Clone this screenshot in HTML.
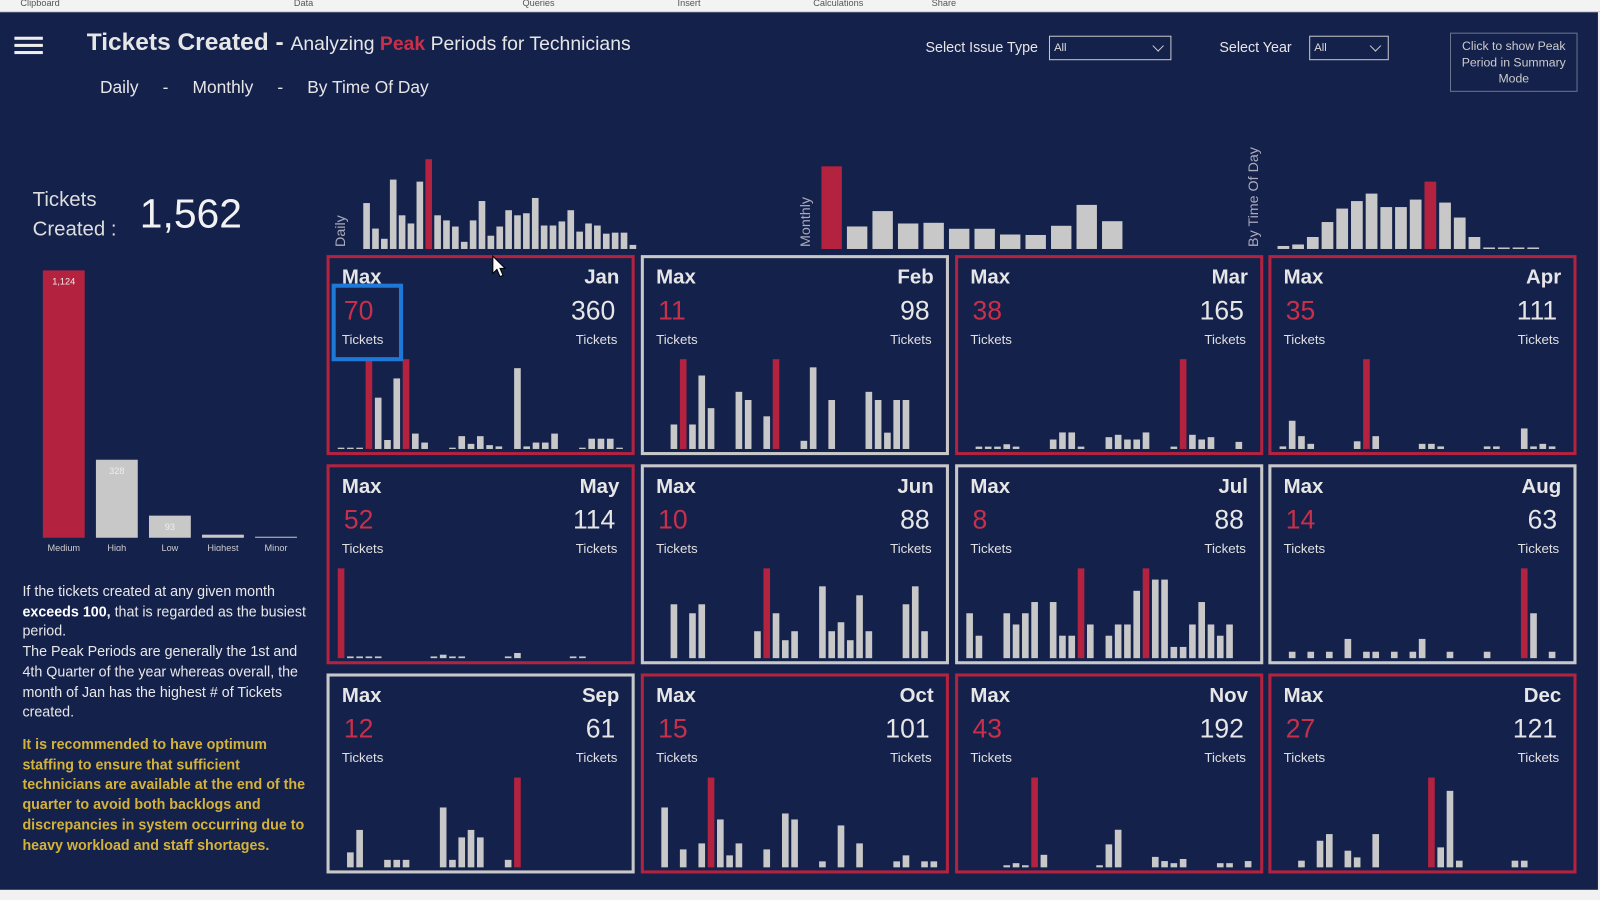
<!DOCTYPE html>
<html><head><meta charset="utf-8">
<style>
*{margin:0;padding:0;box-sizing:border-box}
body{width:1600px;height:900px;overflow:hidden;background:#f1f1f1;font-family:"Liberation Sans",sans-serif;position:relative}
#wrap{position:absolute;left:0;top:0;width:1568px;height:882px;transform:scale(1.0204);transform-origin:0 0}
#ribbon{position:absolute;left:0;top:0;width:1568px;height:12px;background:#f3f3f3;border-bottom:1px solid #ccc;font-size:9px;color:#555}
#ribbon span{position:absolute;top:-2px}
#main{position:absolute;left:0;top:12px;width:1566px;height:860px;background:#14214b}
.t{position:absolute;color:#e6e6e6;white-space:nowrap}
.dd{position:absolute;height:24px;border:1px solid #c8c8c8;color:#ddd;font-size:11px;padding:5px 4px;background:#14214b}
.dd:after{content:"";position:absolute;right:8px;top:5px;width:7px;height:7px;border-right:1px solid #ccc;border-bottom:1px solid #ccc;transform:rotate(45deg)}
.card{position:absolute;border:3px solid #c8c8c8}
.card.red{border-color:#b3233f}
.card .max{position:absolute;left:12px;top:8px;font-weight:bold;font-size:20px;color:#e6e6e6}
.card .mon{position:absolute;right:12px;top:8px;font-weight:bold;font-size:20px;color:#e6e6e6}
.card .mv{position:absolute;left:14px;top:36px;font-size:26px;color:#c8304a}
.card .tv{position:absolute;right:16px;top:36px;font-size:26px;color:#e6e6e6}
.card .l1{position:absolute;left:12px;top:72px;font-size:13px;color:#e0e0e0}
.card .l2{position:absolute;right:14px;top:72px;font-size:13px;color:#e0e0e0}
.card svg{position:absolute;left:0;bottom:0}
#note{position:absolute;left:22px;top:558px;width:282px;font-size:14px;line-height:19.7px;color:#e8e8e8}
#rec{position:absolute;left:22px;top:708px;width:282px;font-size:14px;line-height:19.7px;color:#d4b23a;font-weight:bold}
</style></head><body>
<div id="wrap">
<div id="ribbon"><span style="left:20px">Clipboard</span><span style="left:288px">Data</span><span style="left:512px">Queries</span><span style="left:664px">Insert</span><span style="left:797px">Calculations</span><span style="left:913px">Share</span></div>
<div id="main">
<svg style="position:absolute;left:14px;top:22px" width="30" height="22"><rect y="2" width="28" height="3" fill="#eee"/><rect y="9" width="28" height="3" fill="#eee"/><rect y="16" width="28" height="3" fill="#eee"/></svg>
<div class="t" style="left:85px;top:16px;font-size:24px"><b>Tickets Created</b> <b>-</b> <span style="font-size:19px">Analyzing <b style="color:#c8304a">Peak</b> Periods for Technicians</span></div>
<div class="t" style="left:98px;top:64px;font-size:17px">Daily &nbsp;&nbsp;&nbsp; - &nbsp;&nbsp;&nbsp; Monthly &nbsp;&nbsp;&nbsp; - &nbsp;&nbsp;&nbsp; By Time Of Day</div>
<div class="t" style="left:907px;top:26px;font-size:14px">Select Issue Type</div>
<div class="dd" style="left:1028px;top:23px;width:120px">All</div>
<div class="t" style="left:1195px;top:26px;font-size:14px">Select Year</div>
<div class="dd" style="left:1283px;top:23px;width:78px">All</div>
<div style="position:absolute;left:1421px;top:20px;width:125px;height:58px;border:1px solid #6a7390;color:#ccc;font-size:12px;text-align:center;line-height:16px;padding-top:4px">Click to show Peak Period in Summary Mode</div>
<div class="t" style="left:32px;top:170px;font-size:20px;line-height:29px;color:#ddd">Tickets<br>Created :</div>
<div class="t" style="left:137px;top:176px;font-size:40px;color:#f2f2f2">1,562</div>
<svg id="prio" style="position:absolute;left:30px;top:228px" width="280" height="300"></svg>
<svg id="top" style="position:absolute;left:310px;top:108px" width="1240" height="125"></svg>
<div id="cards"></div>
<div id="note">If the tickets created at any given month <b style="color:#fff">exceeds 100,</b> that is regarded as the busiest period.<br>The Peak Periods are generally the 1st and 4th Quarter of the year whereas overall, the month of Jan has the highest # of Tickets created.</div>
<div id="rec">It is recommended to have optimum staffing to ensure that sufficient technicians are available at the end of the quarter to avoid both backlogs and discrepancies in system occurring due to heavy workload and staff shortages.</div>
<div style="position:absolute;left:325px;top:266px;width:70px;height:76px;border:4px solid #1e78d8"></div>
<svg style="position:absolute;left:482px;top:238px" width="16" height="24"><path d="M1 1 L1 18 L5 14 L8 21 L11 20 L8 13 L13 13 Z" fill="#fff" stroke="#000"/></svg>
</div>
</div>
<script>
const priorities=["Medium","High","Low","Highest","Minor"];
const priorityValues=[1124,328,93,4,1];
const priorityLabels=["1,124","328","93","",""];
const dailyValues=[45,20,10,68,33,25,66,88,33,28,22,7,28,47,13,22,38,33,35,50,23,23,27,38,17,25,23,15,16,16,4];
const monthNames=["Jan","Feb","Mar","Apr","May","Jun","Jul","Aug","Sep","Oct","Nov","Dec"];
const monthlyValues=[360,98,165,111,114,88,88,63,61,101,192,121];
const hourValues=[2,3,8,18,27,32,37,28,28,33,45,31,21,8,1,1,1,1];
const monthMax=[70,11,38,35,52,10,8,14,12,15,43,27];
const redBorder=[true,false,true,true,true,false,false,false,false,true,true,true];
const janDays=[1,1,1,70,40,7,55,70,12,5,0,0,1,10,4,10,3,2,0,63,2,5,5,12,0,0,1,8,8,8,1];
const febDays=[0,0,3,11,3,9,5,0,0,7,6,0,4,11,0,0,1,10,0,6,0,0,0,7,6,2,6,6];
const marDays=[0,1,1,1,2,1,0,0,0,4,7,7,1,0,0,5,6,4,4,7,0,0,1,38,6,4,5,0,0,3,0];
const aprDays=[1,11,5,2,0,0,0,0,3,35,5,0,0,0,0,2,2,1,0,0,0,0,1,1,0,0,8,1,2,1];
const mayDays=[52,1,1,1,1,0,0,0,0,0,1,2,1,1,0,0,0,0,1,3,0,0,0,0,0,1,1,0,0,0,0];
const junDays=[0,0,6,0,5,6,0,0,0,0,0,3,10,5,2,3,0,0,8,3,4,2,7,3,0,0,0,6,8,3];
const julDays=[4,2,0,0,4,3,4,5,0,5,2,2,8,3,0,2,3,3,6,8,7,7,1,1,3,5,3,2,3,0,0];
const augDays=[0,1,0,1,0,1,0,3,0,1,1,0,1,0,1,3,0,0,1,0,0,0,1,0,0,0,14,7,0,1,0];
const sepDays=[0,2,5,0,0,1,1,1,0,0,0,8,1,4,5,4,0,0,1,12,0,0,0,0,0,0,0,0,0,0];
const octDays=[0,10,0,3,0,4,15,8,2,4,0,0,3,0,9,8,0,0,1,0,7,0,4,0,0,0,1,2,0,1,1];
const novDays=[0,0,0,0,1,2,1,43,6,0,0,0,0,0,1,11,18,0,0,0,5,3,2,4,0,0,0,2,2,0,3];
const decDays=[0,0,2,0,8,10,0,5,3,0,10,0,0,0,0,0,27,6,23,2,0,0,0,0,0,2,2,0,0,0,0];
const allDays=[janDays,febDays,marDays,aprDays,mayDays,junDays,julDays,augDays,sepDays,octDays,novDays,decDays];

const NS="http://www.w3.org/2000/svg";
const RED="#b3233f", GREY="#c8c8c8";
function rect(svg,x,y,w,h,fill){const r=document.createElementNS(NS,"rect");r.setAttribute("x",x);r.setAttribute("y",y);r.setAttribute("width",w);r.setAttribute("height",Math.max(h,0));r.setAttribute("fill",fill);svg.appendChild(r);return r;}
function text(svg,x,y,s,size,fill,anchor,rot){const t=document.createElementNS(NS,"text");t.setAttribute("x",x);t.setAttribute("y",y);t.setAttribute("font-size",size);t.setAttribute("fill",fill);t.setAttribute("text-anchor",anchor||"middle");t.setAttribute("font-family","Liberation Sans, sans-serif");if(rot)t.setAttribute("transform","rotate(-90 "+x+" "+y+")");t.textContent=s;svg.appendChild(t);return t;}

(function(){
 const svg=document.getElementById("prio");
 const base=287, maxH=262, slot=52, bw=41;
 const mx=Math.max(...priorityValues);
 const yS=v=>v/mx*maxH;
 priorityValues.forEach((v,i)=>{
  const h=Math.max(yS(v),i<4?3:1);
  const r=rect(svg,12+i*slot,base-h,bw,h,i===0?RED:GREY);
  
  
  if(priorityLabels[i]){const t=text(svg,12+i*slot+bw/2,base-h+14,priorityLabels[i],9,"#eee");}
  const l=text(svg,12+i*slot+bw/2,base+13,priorities[i],9,"#ccc");
  
  
 });
})();

(function(){
 const svg=document.getElementById("top");
 const base=124;
 let t=text(svg,28,base-2,"Daily",14,"#aab","start",true);
 const dMax=Math.max(...dailyValues);
 dailyValues.forEach((v,i)=>{const h=v/dMax*88;const r=rect(svg,46+i*8.7,base-h,6.5,h,v===dMax?RED:GREY);});
 t=text(svg,484,base-2,"Monthly",14,"#aab","start",true);
 const mMax=Math.max(...monthlyValues);
 monthlyValues.forEach((v,i)=>{const h=v/mMax*81;const r=rect(svg,495+i*25,base-h,20,h,v===mMax?RED:GREY);});
 t=text(svg,923,base-2,"By Time Of Day",14,"#aab","start",true);
 const hMax=Math.max(...hourValues);
 hourValues.forEach((v,i)=>{const h=Math.max(v/hMax*66,1);const r=rect(svg,942+i*14.4,base-h,11.5,h,v===hMax?RED:GREY);});
})();

(function(){
 const cont=document.getElementById("cards");
 const xs=[320,628,936,1243], ys=[238,443,648];
 monthNames.forEach((m,i)=>{
  const d=document.createElement("div");
  d.className="card"+(redBorder[i]?" red":"");
  d.style.left=xs[i%4]+"px";d.style.top=ys[Math.floor(i/4)]+"px";
  d.style.width="302px";d.style.height="196px";
  
  
  const days=allDays[i];
  const total=monthlyValues[i];
  d.innerHTML='<div class="max">Max</div><div class="mon">'+m+'</div><div class="mv">'+monthMax[i]+'</div><div class="tv">'+total+'</div><div class="l1">Tickets</div><div class="l2">Tickets</div>';
  const svg=document.createElementNS(NS,"svg");
  svg.setAttribute("width","296");svg.setAttribute("height","95");
  
  
  const mx=Math.max(...days);
  const slot=282/31;
  days.forEach((v,j)=>{const h=v/mx*88;const r=rect(svg,8+j*slot,92-h,6.5,h,v===mx?RED:GREY);});
  d.appendChild(svg);
  cont.appendChild(d);
 });
})();
</script>
</body></html>
